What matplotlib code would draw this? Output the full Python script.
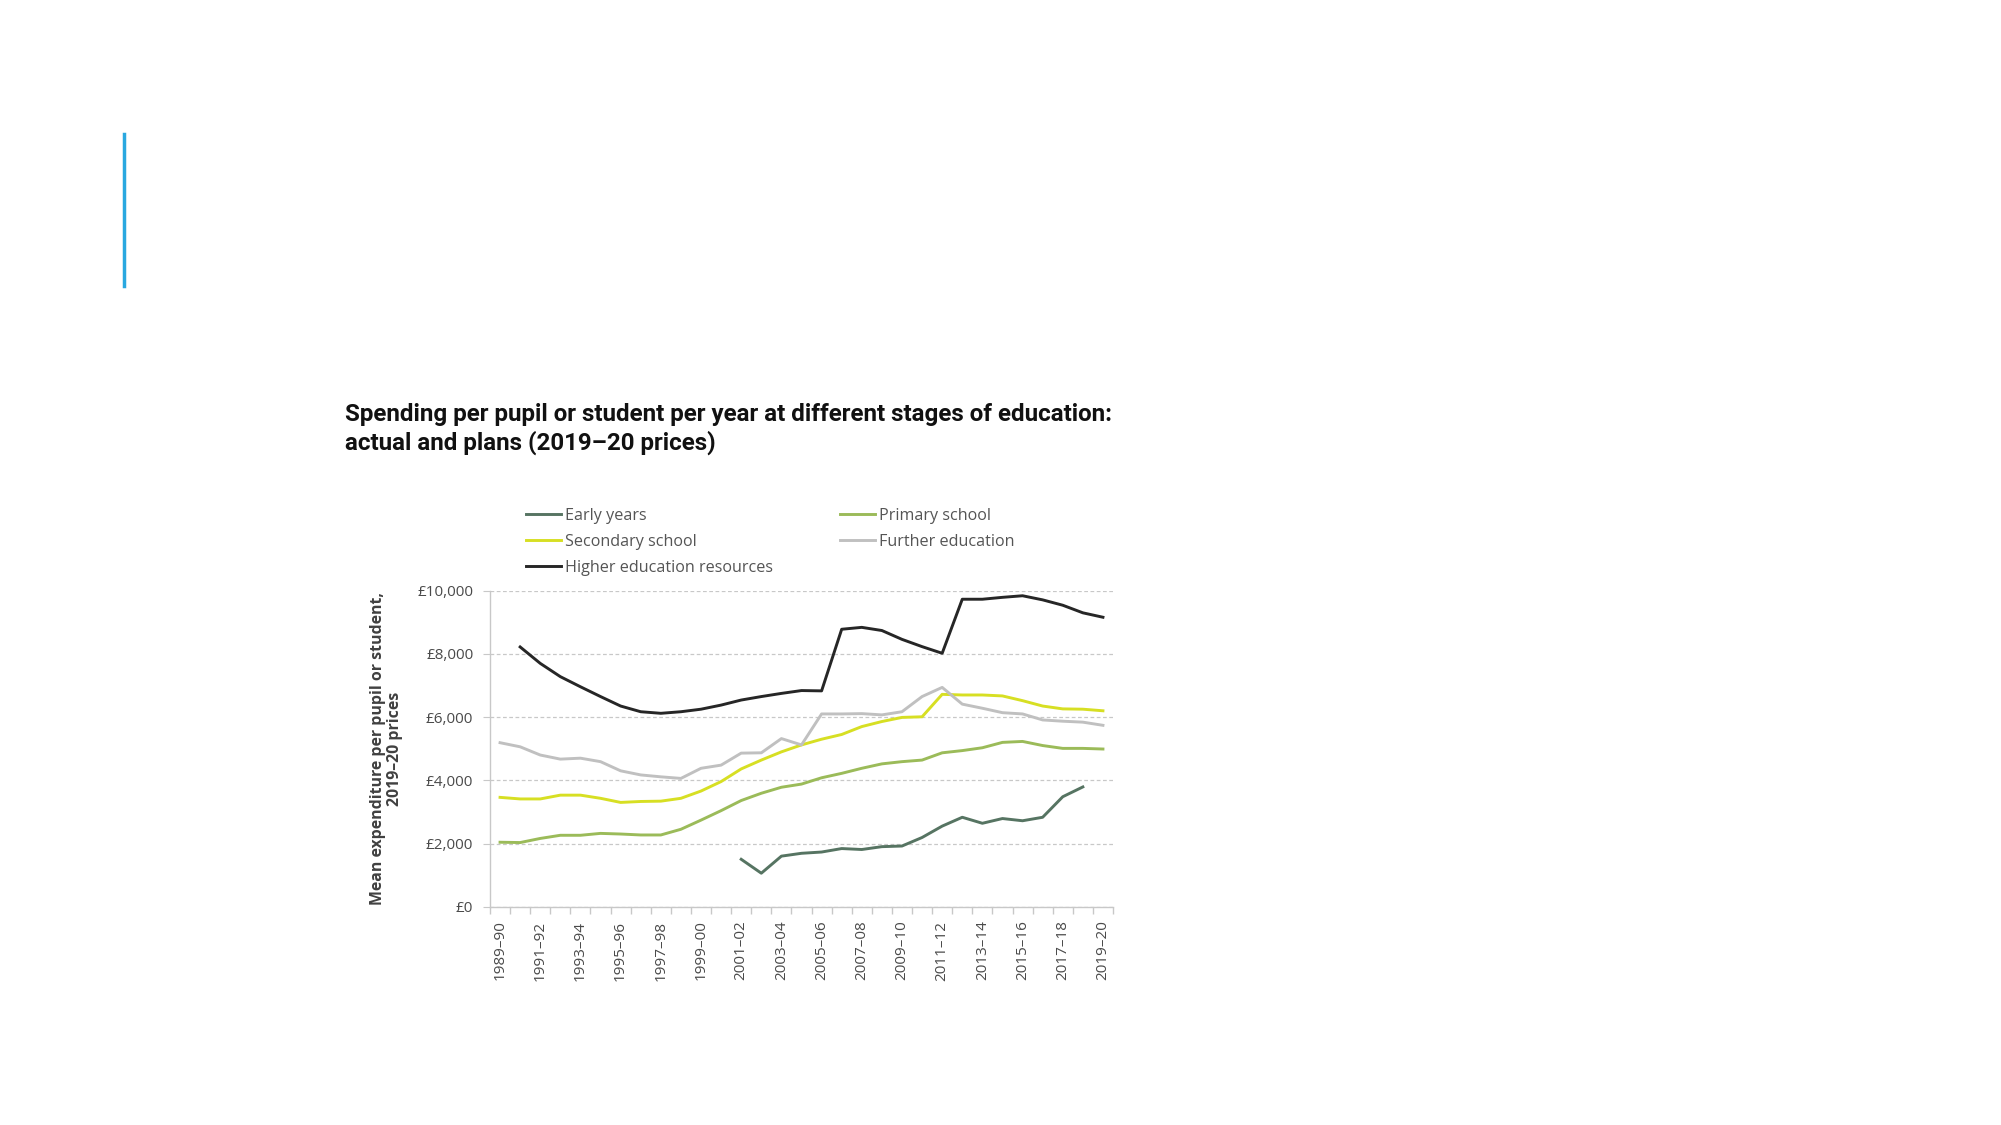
import numpy as np
import matplotlib
matplotlib.use('Agg')
import matplotlib.pyplot as plt
from matplotlib.lines import Line2D
from matplotlib.ticker import FuncFormatter, FixedLocator

years = ['%d\u2013%02d' % (y, (y + 1) % 100) for y in range(1989, 2020)]

early_years = [None] * 12 + [1500, 1060, 1600, 1690, 1730, 1840, 1810, 1900, 1920,
                             2190, 2550, 2830, 2640, 2790, 2720, 2830, 3480, 3790, None]
primary = [2040, 2030, 2160, 2260, 2260, 2320, 2300, 2270, 2270, 2450, 2740, 3040,
           3360, 3590, 3780, 3880, 4080, 4220, 4380, 4520, 4590, 4640, 4870, 4940,
           5030, 5200, 5230, 5100, 5010, 5010, 4990]
secondary = [3460, 3410, 3410, 3530, 3530, 3430, 3300, 3330, 3340, 3430, 3660, 3960,
             4360, 4640, 4900, 5120, 5300, 5450, 5700, 5860, 5990, 6010, 6720, 6700,
             6700, 6670, 6520, 6350, 6260, 6250, 6200]
further = [5190, 5060, 4800, 4670, 4700, 4590, 4300, 4170, 4110, 4060, 4380, 4480,
           4860, 4870, 5320, 5120, 6100, 6100, 6110, 6070, 6170, 6650, 6940, 6410,
           6280, 6140, 6100, 5910, 5870, 5840, 5740]
higher = [None, 8220, 7700, 7280, 6960, 6650, 6350, 6170, 6120, 6170, 6250, 6380,
          6540, 6650, 6750, 6840, 6830, 8780, 8840, 8740, 8460, 8230, 8020, 9730,
          9730, 9790, 9840, 9710, 9540, 9300, 9160]

series = [
    ('Early years', early_years, '#567462'),
    ('Primary school', primary, '#9bbb59'),
    ('Secondary school', secondary, '#d7df23'),
    ('Further education', further, '#c0c0c0'),
    ('Higher education resources', higher, '#262626'),
]

fig = plt.figure(figsize=(20.01, 11.25), dpi=100)
ax = fig.add_axes([490 / 2001, 1 - 906.7 / 1125, (1113 - 490) / 2001, 316 / 1125])

x = np.arange(len(years))
lines = {}
for name, vals, col in series:
    v = np.array([np.nan if a is None else a for a in vals], dtype=float)
    lines[name], = ax.plot(x, v, color=col, lw=2.1, label=name)

ax.set_xlim(-0.5, len(years) - 0.5)
ax.set_ylim(0, 10000)
ax.set_yticks(range(0, 10001, 2000))
ax.yaxis.set_major_formatter(FuncFormatter(lambda v, p: '\u00a3{:,.0f}'.format(v)))
ax.grid(axis='y', color='#c8c8c8', ls=(0, (3, 2)), lw=0.9)
ax.set_axisbelow(True)

ax.set_xticks(x[::2])
ax.set_xticklabels(years[::2], rotation=90)
ax.xaxis.set_minor_locator(FixedLocator(np.arange(-0.5, len(years), 1)))
ax.tick_params(axis='x', which='major', length=0, pad=10)
ax.tick_params(axis='x', which='minor', length=5, color='#c8c8c8', width=1)
ax.tick_params(axis='y', length=5, color='#c8c8c8', pad=7)
ax.tick_params(labelsize=11, labelcolor='#4a4a4a')
for lab in ax.get_xticklabels() + ax.get_yticklabels():
    lab.set_family('Open Sans')

for s in ['top', 'right']:
    ax.spines[s].set_visible(False)
for s in ['left', 'bottom']:
    ax.spines[s].set_color('#c8c8c8')
    ax.spines[s].set_linewidth(1)

ax.set_ylabel('Mean expenditure per pupil or student,\n2019\u201320 prices',
              fontsize=11.4, fontweight='bold', color='#404040', family='Open Sans',
              labelpad=10, linespacing=1.15)

order = ['Early years', 'Secondary school', 'Higher education resources',
         'Primary school', 'Further education']
leg = ax.legend([lines[n] for n in order], order, ncol=2, frameon=False,
                loc='upper left', bbox_to_anchor=(526 / 2001, 1 - 508 / 1125),
                bbox_transform=fig.transFigure, borderaxespad=0, borderpad=0,
                handlelength=2.2, handletextpad=0.25, labelspacing=0.62,
                columnspacing=4.1, prop={'family': 'Open Sans', 'size': 11.6})
for t in leg.get_texts():
    t.set_color('#555555')

fig.text(345 / 2001, 1 - 429 / 1125,
         'Spending per pupil or student per year at different stages of education:\n'
         'actual and plans (2019\u201320 prices)',
         fontsize=17.4, fontweight='bold', color='#111111', va='center', ha='left',
         family=['Roboto', 'DejaVu Sans'], linespacing=1.25)

fig.add_artist(Line2D([124 / 2001, 124 / 2001], [1 - 134 / 1125, 1 - 286 / 1125],
                      transform=fig.transFigure, color='#29a8e0', lw=2.5))

fig.savefig('out.png', dpi=100)
